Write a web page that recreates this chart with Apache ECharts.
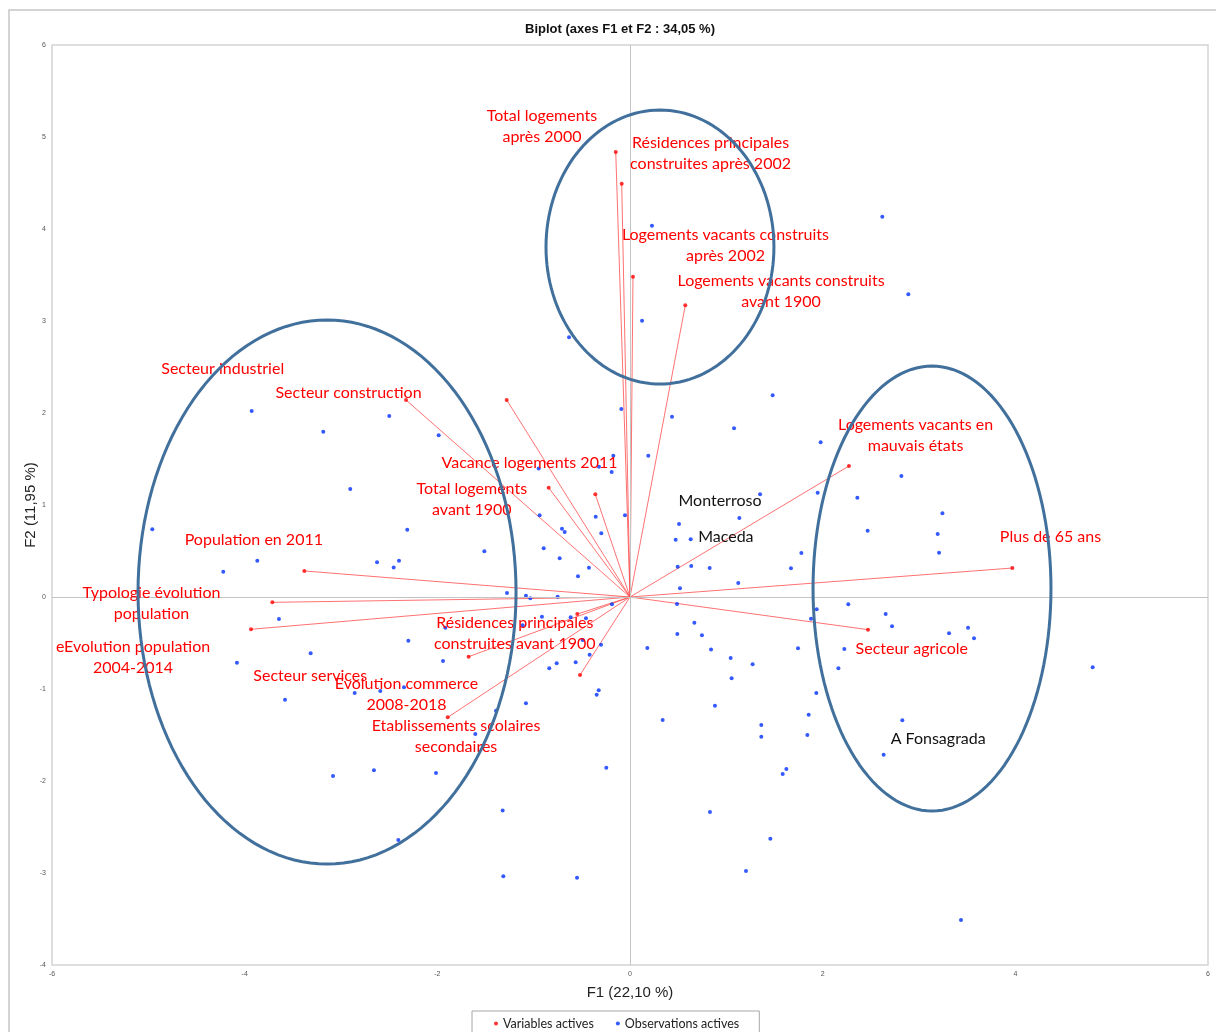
<!DOCTYPE html>
<html>
<head>
<meta charset="utf-8">
<title>Biplot</title>
<script src="https://cdn.jsdelivr.net/npm/echarts@6/dist/echarts.min.js"></script>
<style>
  html, body { margin: 0; padding: 0; background: #fff; }
  #chart { width: 1216px; height: 1032px; }
</style>
</head>
<body>
<div id="chart"></div>
<script>
// variables actives (arrow tips)
let varNames = [
    'Total logements après 2000', 'Résidences principales construites après 2002',
    'Logements vacants construits après 2002', 'Logements vacants construits avant 1900',
    'Secteur industriel', 'Secteur construction', 'Vacance logements 2011',
    'Total logements avant 1900', 'Population en 2011', 'Typologie évolution population',
    'eEvolution population 2004-2014', 'Plus de 65 ans', 'Logements vacants en mauvais états',
    'Secteur agricole', 'Résidences principales construites avant 1900',
    'Etablissements scolaires secondaires', 'Evolution commerce 2008-2018', 'Secteur services'
];
let varX = [-0.148, -0.086, 0.031, 0.574, -1.28, -2.325, -0.36, -0.844, -3.381, -3.713,
    -3.934, 3.969, 2.273, 2.471, -1.675, -1.892, -0.519, -0.547];
let varY = [4.837, 4.492, 3.482, 3.17, 2.141, 2.141, 1.116, 1.188, 0.283, -0.058,
    -0.351, 0.315, 1.424, -0.355, -0.649, -1.308, -0.848, -0.185];

// observations actives
let obsX = [0.228, 0.125, -0.633, 2.619, 2.889,
    -3.927, -2.499, -3.184, -2.904, -4.959, -3.869, -4.222, -2.626, -2.453, -2.398, -3.644, -3.315, -4.08,
    1.481, -0.09, 0.436, 1.08, -1.986, 0.19, -0.173, -0.948, -0.322, -0.19, 1.35, 1.948, -0.052, -0.356,
    -0.938, -2.312, 0.509, 1.135, -0.298, -0.706, -0.678, 0.474, 0.63, -0.896, -1.512, 1.779, -0.73,
    -0.426, -0.54, 0.495, 0.636, 0.827, 1.671, 1.124, 0.519, -1.277, -1.08, -1.035, -0.751, -0.187,
    0.488, 1.938, 0.668, -0.914, -0.616, -0.457, -1.917, 0.491, 0.747, 1.879, -2.301, -0.301, 0.18,
    0.841, 1.744, -1.941, -0.419, 1.045, 1.273, -0.761, -0.564, -0.838,
    -1.114, -0.491, -2.346,
    1.979, 2.817, 2.36, 3.243, 2.467, 3.194, 3.208, 2.266, 2.654, 2.72, 3.312, 3.509, 3.571, 2.225,
    2.163, 4.803,
    1.934, 1.855, 1.841, 2.827, 2.633, 3.436,
    1.055, -0.325, -0.346, 0.882, -1.08, -1.391, -1.606, 0.339, 1.363, 1.363, -0.246, -2.014, 1.623,
    1.585, 0.83, -1.322, 1.457, 1.204, -1.315, -0.55,
    -3.581, -2.858, -2.592, -3.083, -2.658, -2.405];
let obsY = [4.036, 3.003, 2.823, 4.134, 3.29,
    2.022, 1.967, 1.797, 1.174, 0.736, 0.395, 0.275, 0.377, 0.322, 0.395, -0.239, -0.612, -0.714,
    2.192, 2.043, 1.96, 1.833, 1.757, 1.536, 1.536, 1.398, 1.417, 1.359, 1.116, 1.134, 0.888, 0.873,
    0.888, 0.732, 0.793, 0.859, 0.692, 0.743, 0.707, 0.623, 0.627, 0.529, 0.496, 0.478, 0.42,
    0.319, 0.225, 0.33, 0.337, 0.315, 0.312, 0.152, 0.094, 0.043, 0.014, -0.014, 0.004, -0.08,
    -0.076, -0.134, -0.279, -0.214, -0.221, -0.232, -0.333, -0.402, -0.417, -0.236, -0.475, -0.518, -0.554,
    -0.572, -0.558, -0.696, -0.627, -0.663, -0.732, -0.721, -0.71, -0.775,
    -0.308, -0.467, -0.982,
    1.681, 1.315, 1.08, 0.909, 0.721, 0.685, 0.482, -0.08, -0.185, -0.319, -0.395, -0.333, -0.449, -0.565,
    -0.775, -0.764,
    -1.043, -1.279, -1.5, -1.341, -1.714, -3.511,
    -0.884, -1.014, -1.062, -1.181, -1.156, -1.236, -1.489, -1.337, -1.391, -1.518, -1.855, -1.913, -1.87,
    -1.924, -2.337, -2.322, -2.627, -2.978, -3.036, -3.051,
    -1.116, -1.043, -1.022, -1.946, -1.884, -2.641];

// labels placed on the plot
let varLabelText = [
    'Total logements\naprès 2000', 'Résidences principales\nconstruites après 2002',
    'Logements vacants construits\naprès 2002', 'Logements vacants construits\navant 1900',
    'Secteur industriel', 'Secteur construction', 'Vacance logements 2011',
    'Total logements\navant 1900', 'Population en 2011', 'Typologie évolution\npopulation',
    'eEvolution population\n2004-2014', 'Plus de 65 ans', 'Logements vacants en\nmauvais états',
    'Secteur agricole', 'Résidences principales\nconstruites avant 1900',
    'Etablissements scolaires\nsecondaires', 'Evolution commerce\n2008-2018', 'Secteur services'
];
let varLabelX = [-0.914, 0.836, 0.991, 1.568, -4.228, -2.922, -1.043, -1.642, -3.905, -4.967,
    -5.159, 4.365, 2.964, 2.925, -1.196, -1.806, -2.32, -3.319];
let varLabelY = [5.12, 4.821, 3.821, 3.321, 2.478, 2.214, 1.46, 1.06, 0.62, -0.074,
    -0.652, 0.655, 1.758, -0.568, -0.391, -1.516, -1.054, -0.859];

let obsLabelText = ['Monterroso', 'Maceda', 'A Fonsagrada'];
let obsLabelX = [0.934, 0.995, 3.199];
let obsLabelY = [1.047, 0.655, -1.547];

// groups circled on the plot
let ellipseCx = [-3.145, 0.311, 3.135];
let ellipseCy = [0.054, 3.804, 0.092];
let ellipseRx = [1.962, 1.183, 1.235];
let ellipseRy = [2.957, 1.489, 2.418];

let xTicks = { min: -6, max: 6, interval: 2 };
let yTicks = { min: -4, max: 6, interval: 1 };

let labelFont = 'Lato';

function zip(a, b) {
    let out = [];
    for (let i = 0; i < a.length; i++) out.push([a[i], b[i]]);
    return out;
}

var myChart = echarts.init(document.getElementById('chart'));

let vectorData = [];
for (let i = 0; i < varX.length; i++) {
    vectorData.push({ name: varNames[i], value: [varX[i], varY[i]] });
}

let labelData = [];
for (let i = 0; i < varLabelText.length; i++) {
    labelData.push({ value: [varLabelX[i], varLabelY[i]], text: varLabelText[i], color: '#ff0000' });
}
for (let i = 0; i < obsLabelText.length; i++) {
    labelData.push({ value: [obsLabelX[i], obsLabelY[i]], text: obsLabelText[i], color: '#111111' });
}

let ellipseData = [];
for (let i = 0; i < ellipseCx.length; i++) {
    ellipseData.push([ellipseCx[i], ellipseCy[i], ellipseRx[i], ellipseRy[i]]);
}

let option = {
    backgroundColor: '#ffffff',
    animation: false,
    title: {
        text: 'Biplot (axes F1 et F2 : 34,05 %)',
        left: 615,
        textAlign: 'center',
        top: 18,
        textStyle: { fontFamily: 'Liberation Sans', fontSize: 13, fontWeight: 'bold', color: '#111' }
    },
    graphic: [{
        type: 'rect',
        shape: { x: 9, y: 10, width: 1240, height: 1060 },
        style: { fill: 'none', stroke: '#c6c6c6', lineWidth: 1.5 },
        silent: true
    }],
    legend: {
        left: 472,
        top: 1011,
        padding: [6, 20, 10, 22],
        borderColor: '#a6a6a6',
        borderWidth: 1,
        itemGap: 22,
        itemWidth: 4,
        itemHeight: 4,
        data: [
            { name: 'Variables actives', icon: 'circle' },
            { name: 'Observations actives', icon: 'circle' }
        ],
        textStyle: { fontFamily: labelFont, fontSize: 12.5, color: '#222' }
    },
    grid: {
        left: 52, right: 8, top: 45, bottom: 67,
        show: true,
        borderColor: '#d4d4d4',
        borderWidth: 1.5
    },
    xAxis: {
        type: 'value',
        min: xTicks.min, max: xTicks.max, interval: xTicks.interval,
        name: 'F1 (22,10 %)',
        nameLocation: 'middle',
        nameGap: 20,
        nameTextStyle: { fontFamily: 'Liberation Sans', fontSize: 15, color: '#222' },
        axisLine: { show: false },
        axisTick: { show: false },
        splitLine: { show: false },
        axisLabel: { fontSize: 7, color: '#555', margin: 6, fontFamily: 'Liberation Sans' }
    },
    yAxis: {
        type: 'value',
        min: yTicks.min, max: yTicks.max, interval: yTicks.interval,
        name: 'F2 (11,95 %)',
        nameLocation: 'middle',
        nameGap: 14,
        nameMoveOverlap: false,
        nameTextStyle: { fontFamily: 'Liberation Sans', fontSize: 15, color: '#222' },
        axisLine: { show: false },
        axisTick: { show: false },
        splitLine: { show: false },
        axisLabel: { fontSize: 7, color: '#555', margin: 6, fontFamily: 'Liberation Sans' }
    },
    series: [
        {
            // red arrows from the origin
            name: 'vecteurs',
            type: 'custom',
            silent: true,
            z: 3,
            data: vectorData,
            renderItem: function (params, api) {
                let o = api.coord([0, 0]);
                let p = api.coord([api.value(0), api.value(1)]);
                return {
                    type: 'line',
                    shape: { x1: o[0], y1: o[1], x2: p[0], y2: p[1] },
                    style: { stroke: '#ff4d4d', lineWidth: 0.8 }
                };
            }
        },
        {
            name: 'Variables actives',
            type: 'scatter',
            symbolSize: 4,
            z: 4,
            itemStyle: { color: '#ff0000' },
            data: zip(varX, varY)
        },
        {
            name: 'Observations actives',
            type: 'scatter',
            symbolSize: 4,
            z: 4,
            itemStyle: { color: '#0030ff' },
            data: zip(obsX, obsY),
            markLine: {
                silent: true,
                symbol: 'none',
                label: { show: false },
                lineStyle: { color: '#c4c4c4', width: 1, type: 'solid' },
                data: [{ xAxis: 0 }, { yAxis: 0 }]
            }
        },
        {
            name: 'etiquettes',
            type: 'custom',
            silent: true,
            z: 5,
            data: labelData,
            renderItem: function (params, api) {
                let item = labelData[params.dataIndex];
                let p = api.coord([api.value(0), api.value(1)]);
                return {
                    type: 'text',
                    x: p[0], y: p[1],
                    style: {
                        text: item.text,
                        fill: item.color,
                        fontFamily: labelFont,
                        fontSize: 16,
                        lineHeight: 21,
                        align: 'center',
                        verticalAlign: 'middle'
                    }
                };
            }
        },
        {
            name: 'groupes',
            type: 'custom',
            silent: true,
            z: 6,
            data: ellipseData,
            renderItem: function (params, api) {
                let cx = api.value(0), cy = api.value(1), rx = api.value(2), ry = api.value(3);
                let pts = [];
                for (let k = 0; k < 144; k++) {
                    let t = k / 144 * Math.PI * 2;
                    pts.push(api.coord([cx + rx * Math.cos(t), cy + ry * Math.sin(t)]));
                }
                return {
                    type: 'polygon',
                    shape: { points: pts },
                    style: { fill: 'none', stroke: '#41709c', lineWidth: 3 }
                };
            }
        }
    ]
};

myChart.setOption(option);
</script>
</body>
</html>
